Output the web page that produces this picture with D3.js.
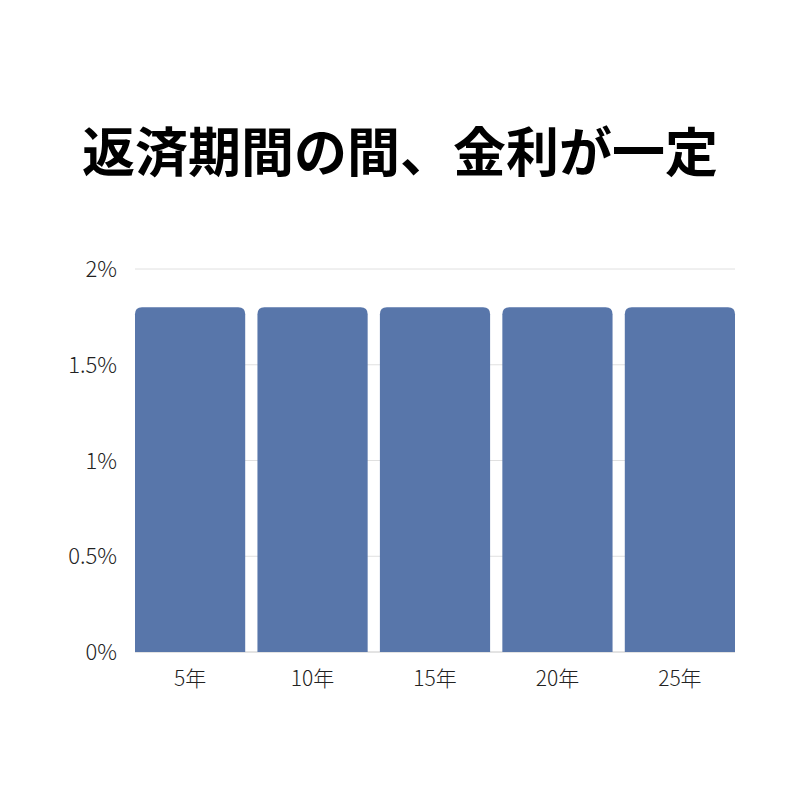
<!DOCTYPE html>
<html><head><meta charset="utf-8">
<script src="https://cdn.jsdelivr.net/npm/d3@7"></script>
<style>html,body{margin:0;padding:0;background:#fff;}</style>
</head><body>
<svg id="c" width="800" height="800"></svg>
<script>
const title = "返済期間の間、金利が一定";
const categories = ["5年","10年","15年","20年","25年"];
const values = [1.8,1.8,1.8,1.8,1.8];
const yTicks = [0,0.5,1,1.5,2];
const yTickLabels = ["0%","0.5%","1%","1.5%","2%"];

(function(){
const svg = d3.select("#c");
svg.append("rect").attr("width",800).attr("height",800).attr("fill","#fff");
const pLeft=135,pRight=735,pTop=269,pBottom=652;
const x = d3.scaleBand().domain(categories).range([pLeft,pRight]).paddingInner(0.1).paddingOuter(0.0);
const y = d3.scaleLinear().domain([0,2]).range([pBottom,pTop]);

svg.append("text").attr("x",400).attr("y",172).attr("text-anchor","middle")
  .attr("font-family","'Noto Sans CJK JP'").attr("font-weight",700).attr("font-size",53)
  .attr("fill","#000").text(title);

svg.append("g").selectAll("line").data(yTicks).join("line")
  .attr("x1",pLeft).attr("x2",pRight).attr("y1",d=>y(d)).attr("y2",d=>y(d))
  .attr("stroke",d=>d===0?"#c8c8c8":"#e0e0e0").attr("stroke-width",1);

svg.append("g").selectAll("text").data(yTicks).join("text")
  .attr("x",117).attr("y",d=>y(d)+8).attr("text-anchor","end")
  .attr("font-family","'Noto Sans CJK JP'").attr("font-weight",300).attr("font-size",22).attr("fill","#222")
  .text((d,i)=>yTickLabels[i]);

const r=7;
svg.append("g").selectAll("path").data(values).join("path")
  .attr("fill","#5876aa")
  .attr("d",(d,i)=>{
    const x0=x(categories[i]), w=x.bandwidth(), y0=y(d), y1=y(0);
    return `M${x0},${y1}V${y0+r}Q${x0},${y0} ${x0+r},${y0}H${x0+w-r}Q${x0+w},${y0} ${x0+w},${y0+r}V${y1}Z`;
  });

svg.append("g").selectAll("text").data(categories).join("text")
  .attr("x",d=>x(d)+x.bandwidth()/2).attr("y",686).attr("text-anchor","middle")
  .attr("font-family","'Noto Sans CJK JP'").attr("font-weight",300).attr("font-size",21).attr("fill","#222")
  .text(d=>d);
})();
</script>
</body></html>
